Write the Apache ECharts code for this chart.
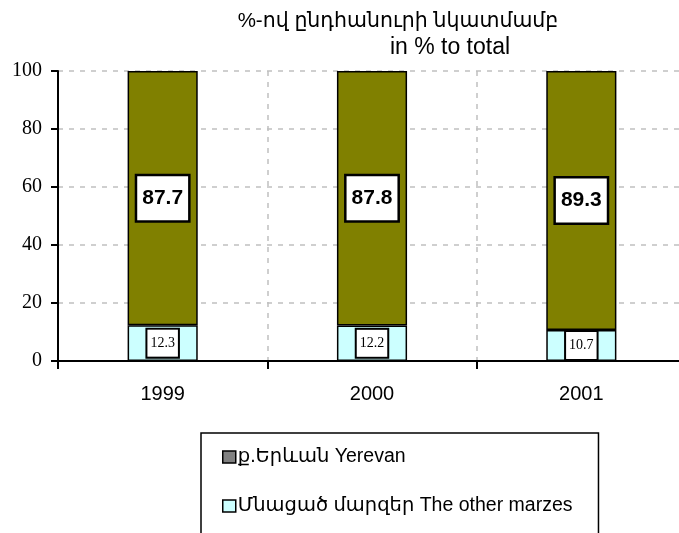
<!DOCTYPE html>
<html>
<head>
<meta charset="utf-8">
<script src="https://cdn.jsdelivr.net/npm/echarts@6/dist/echarts.min.js"></script>
<style>
  html, body { margin: 0; padding: 0; background: #fff; overflow: hidden; }
  #chart { width: 686px; height: 560px; }
</style>
</head>
<body>
<div id="chart"></div>
<script type="text/javascript">
// data
var years = ['1999', '2000', '2001'];
var yerevan = [87.7, 87.8, 89.3];
var otherMarzes = [12.3, 12.2, 10.7];
var yTicks = [0, 20, 40, 60, 80, 100];

var nameYerevan = 'ք.Երևան Yerevan';
var nameOther = 'Մնացած մարզեր The other marzes';

var sans = 'Arial, "Liberation Sans", "DejaVu Sans", sans-serif';
var serif = '"Times New Roman", "Liberation Serif", serif';

// canvas is a bit wider/taller than the window so the plot and legend box run off the edge
var myChart = echarts.init(document.getElementById('chart'));
var option = {
    animation: false,
    backgroundColor: '#ffffff',
    title: [
        {
            text: '%-ով ընդհանուրի նկատմամբ',
            left: 393, top: 6, textAlign: 'center',
            textStyle: { fontFamily: sans, fontSize: 20.5, fontWeight: 'normal', color: '#000' }
        },
        {
            text: 'in % to total',
            left: 445, top: 31, textAlign: 'center',
            textStyle: { fontFamily: sans, fontSize: 23, fontWeight: 'normal', color: '#000' }
        }
    ],
    legend: {
        orient: 'vertical',
        left: 201, top: 433,
        padding: [14, 26, 40, 21],
        itemGap: 29,
        itemWidth: 13, itemHeight: 12,
        borderColor: '#000', borderWidth: 1.5,
        backgroundColor: '#fff',
        textStyle: { fontFamily: sans, fontSize: 19.5, color: '#000', padding: [0, 0, 0, -3] },
        data: [
            { name: nameYerevan, icon: 'rect', itemStyle: { color: '#808080', borderColor: '#000', borderWidth: 1.5 } },
            { name: nameOther, icon: 'rect', itemStyle: { color: '#ccffff', borderColor: '#000', borderWidth: 1.5 } }
        ]
    },
    grid: { left: 58, right: 0, top: 71, bottom: 199 },
    xAxis: {
        type: 'category',
        data: years,
        axisLine: { lineStyle: { color: '#000', width: 2 } },
        axisTick: { show: true, length: 8, lineStyle: { color: '#000', width: 2 } },
        axisLabel: { fontFamily: sans, fontSize: 20, color: '#000', margin: 23 },
        splitLine: { show: true, lineStyle: { color: '#c0c0c0', width: 1.5, type: [5, 6] } }
    },
    yAxis: {
        type: 'value',
        min: yTicks[0], max: yTicks[yTicks.length - 1], interval: 20,
        axisLine: { show: true, lineStyle: { color: '#000', width: 2 } },
        axisTick: { show: true, length: 7, lineStyle: { color: '#000', width: 2 } },
        axisLabel: { fontFamily: serif, fontSize: 20, color: '#000', margin: 16 },
        splitLine: { show: true, lineStyle: { color: '#c0c0c0', width: 1.5, type: [5, 6] } }
    },
    series: [
        {
            name: nameOther,
            type: 'bar',
            stack: 'total',
            barWidth: '33.5%',
            data: otherMarzes,
            itemStyle: { color: '#ccffff', borderColor: '#000', borderWidth: 1.5 },
            label: {
                show: true, position: 'inside',
                formatter: function (p) { return p.value.toFixed(1); },
                fontFamily: serif, fontSize: 14, color: '#000',
                backgroundColor: '#fff', borderColor: '#000', borderWidth: 2,
                padding: [7, 3, 6, 3]
            }
        },
        {
            name: nameYerevan,
            type: 'bar',
            stack: 'total',
            data: yerevan,
            itemStyle: { color: '#808000', borderColor: '#000', borderWidth: 1.5 },
            label: {
                show: true, position: 'inside',
                formatter: function (p) { return p.value.toFixed(1); },
                fontFamily: sans, fontSize: 21, fontWeight: 'bold', color: '#000',
                backgroundColor: '#fff', borderColor: '#000', borderWidth: 2.5,
                padding: [12, 5, 11, 5]
            }
        }
    ]
};
myChart.setOption(option);
</script>
</body>
</html>
